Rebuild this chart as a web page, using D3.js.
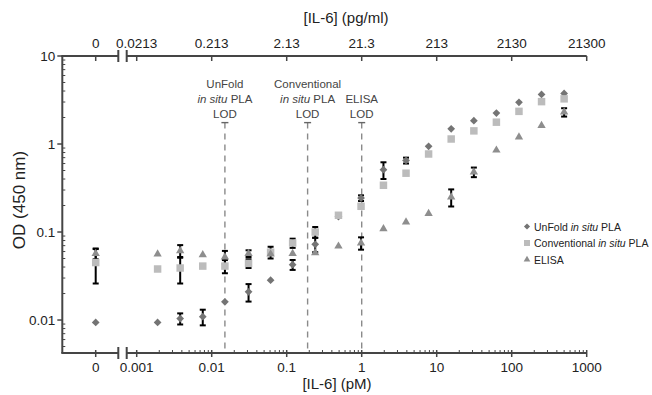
<!DOCTYPE html>
<html><head><meta charset="utf-8">
<script src="https://cdn.jsdelivr.net/npm/d3@7"></script>
<style>body{margin:0;background:#fff}svg{display:block;font-family:"Liberation Sans",Arial,sans-serif}</style>
</head><body><svg id="c" width="652" height="395"></svg>
<script>
// ---- data ----
const concentrations = [0, 0.0019, 0.0038, 0.0076, 0.015, 0.031, 0.061, 0.12, 0.24, 0.49, 0.98, 1.95, 3.9, 7.8, 15.6, 31.3, 62.5, 125, 250, 500];
const unfold       = [0.0094, 0.0094, 0.0104, 0.0109, 0.0161, 0.0209, 0.0284, 0.0426, 0.0725, 0.15, 0.243, 0.51, 0.65, 0.94, 1.49, 1.84, 2.25, 2.98, 3.66, 3.75];
const unfoldSD     = [0, 0, 0.0015, 0.0022, 0, 0.0047, 0, 0.0055, 0.0135, 0, 0.018, 0.11, 0.05, 0, 0, 0, 0, 0, 0, 0];
const conventional = [0.045, 0.038, 0.039, 0.041, 0.041, 0.044, 0.059, 0.075, 0.100, 0.155, 0.196, 0.34, 0.466, 0.77, 1.14, 1.41, 1.77, 2.35, 3.03, 3.26];
const conventionalSD = [0.019, 0, 0.013, 0, 0.007, 0.005, 0.009, 0.009, 0.014, 0, 0, 0, 0, 0, 0, 0, 0, 0, 0, 0];
const elisa        = [0.057, 0.056, 0.061, 0.055, 0.052, 0.057, 0.056, 0.057, 0.058, 0.069, 0.075, 0.109, 0.130, 0.162, 0.25, 0.48, 0.85, 1.20, 1.62, 2.30];
const elisaSD      = [0.008, 0, 0.010, 0, 0.009, 0.005, 0, 0, 0, 0, 0.012, 0, 0, 0, 0.055, 0.06, 0, 0, 0, 0.25];
const seriesNames  = ["UnFold", "Conventional", "ELISA"];
const xTicks = [0.001, 0.01, 0.1, 1, 10, 100, 1000];
const xTickLabels = ["0.001", "0.01", "0.1", "1", "10", "100", "1000"];
const topTickLabels = ["0.0213", "0.213", "2.13", "21.3", "213", "2130", "21300"];
const zeroLabel = "0";
const yTicks = [0.01, 0.1, 1, 10];
const yTickLabels = ["0.01", "0.1", "1", "10"];
const lodValues = [0.015, 0.19, 1.0];
const lodTop = 1.75;
const lodLabels = [["UnFold", "in situ PLA", "LOD"], ["Conventional", "in situ PLA", "LOD"], ["ELISA", "LOD"]];

// ---- layout ----
const svg = d3.select("#c");
const axisX0 = 62.3, yTop = 56, yBot = 353;
const xLog = d3.scaleLog().domain([0.001, 1000]).range([136.7, 586.7]);
const xZero = d3.scaleOrdinal().domain(["0"]).range([95.7]);
const x = c => c === 0 ? xZero("0") : xLog(c);
const y = d3.scaleLog().domain([0.00422, 10]).range([yBot, yTop]);
const breakL = 118.3, breakR = 126.7;
const axisColor = "#454545";
const textColor = "#222";

const series = [
  {name: seriesNames[0], vals: unfold, sd: unfoldSD, shape: "diamond", color: "#747474"},
  {name: seriesNames[1], vals: conventional, sd: conventionalSD, shape: "square", color: "#bcbcbc"},
  {name: seriesNames[2], vals: elisa, sd: elisaSD, shape: "triangle", color: "#8e8e8e"}
];

function symPath(shape, scale) {
  scale = scale || 1;
  if (shape === "diamond") return d3.symbol(d3.symbolSquare, 30 * scale * scale)();
  if (shape === "square") return d3.symbol(d3.symbolSquare, 56 * scale * scale)();
  return d3.symbol(d3.symbolTriangle, 30 * scale * scale)();
}

// ---- LOD dashed lines ----
const lodG = svg.append("g");
lodValues.forEach((v, i) => {
  const xv = xLog(v);
  lodG.append("line").attr("x1", xv).attr("x2", xv).attr("y1", y(lodTop)).attr("y2", yBot)
    .attr("stroke", "#8a8a8a").attr("stroke-width", 1.4).attr("stroke-dasharray", "6,5");
  lodG.append("line").attr("x1", xv - 3.5).attr("x2", xv + 3.5).attr("y1", y(lodTop)).attr("y2", y(lodTop))
    .attr("stroke", "#666").attr("stroke-width", 1.4);
  const lines = lodLabels[i];
  const n = lines.length;
  lines.forEach((t, j) => {
    const baseY = y(lodTop) - 5 - (n - 1 - j) * 15;
    const tx = lodG.append("text").attr("x", xv).attr("y", baseY).attr("text-anchor", "middle")
      .attr("font-size", 11.5).attr("fill", "#444");
    if (t === "in situ PLA") {
      tx.append("tspan").attr("font-style", "italic").text("in situ");
      tx.append("tspan").text(" PLA");
    } else tx.text(t);
  });
});

// ---- error bars ----
const ebG = svg.append("g");
series.forEach(s => {
  concentrations.forEach((c, i) => {
    const sd = s.sd[i];
    if (!sd) return;
    const xv = x(c), hi = y(s.vals[i] + sd), lo = y(Math.max(s.vals[i] - sd, 1e-4));
    ebG.append("line").attr("x1", xv).attr("x2", xv).attr("y1", hi).attr("y2", lo).attr("stroke", "#000").attr("stroke-width", 2);
    [hi, lo].forEach(yy => ebG.append("line").attr("x1", xv - 3).attr("x2", xv + 3).attr("y1", yy).attr("y2", yy).attr("stroke", "#000").attr("stroke-width", 2));
  });
});

// ---- markers ----
series.forEach(s => {
  svg.append("g").selectAll("path").data(concentrations.map((c, i) => ({c, v: s.vals[i]})))
    .join("path")
    .attr("d", symPath(s.shape))
    .attr("transform", d => `translate(${x(d.c)},${y(d.v)})` + (s.shape === "diamond" ? " rotate(45)" : ""))
    .attr("fill", s.color);
});

// ---- axes ----
const axG = svg.append("g").attr("stroke", axisColor).attr("fill", "none");
axG.append("line").attr("x1", axisX0).attr("x2", axisX0).attr("y1", yTop).attr("y2", yBot).attr("stroke-width", 2);
[yBot, yTop].forEach(yy => {
  axG.append("line").attr("x1", axisX0 - 1).attr("x2", breakL).attr("y1", yy).attr("y2", yy).attr("stroke-width", 2);
  axG.append("line").attr("x1", breakR).attr("x2", xLog(1000)).attr("y1", yy).attr("y2", yy).attr("stroke-width", 2);
  [breakL, breakR].forEach(bx => axG.append("line").attr("x1", bx).attr("x2", bx).attr("y1", yy - 6).attr("y2", yy + 6).attr("stroke-width", 2));
});
yTicks.forEach(t => axG.append("line").attr("x1", axisX0 - 5).attr("x2", axisX0).attr("y1", y(t)).attr("y2", y(t)).attr("stroke-width", 1.5));
const yMinor = [];
for (let e = -3; e <= 0; e++) for (let m = 2; m <= 9; m++) { const v = m * Math.pow(10, e); if (v >= 0.00422 && v < 10) yMinor.push(v); }
yMinor.forEach(t => axG.append("line").attr("x1", axisX0).attr("x2", axisX0 + 3).attr("y1", y(t)).attr("y2", y(t)).attr("stroke-width", 1));
svg.append("g").selectAll("text").data(yTicks).join("text")
  .attr("x", axisX0 - 7).attr("y", d => y(d) + 5).attr("text-anchor", "end")
  .attr("font-size", 13.5).attr("fill", textColor).text((d, i) => yTickLabels[i]);

const bottomMajor = [0].concat(xTicks);
bottomMajor.forEach(t => axG.append("line").attr("x1", x(t)).attr("x2", x(t)).attr("y1", yBot - 3).attr("y2", yBot + 4).attr("stroke-width", 1.5));
const xMinor = [];
for (let e = -3; e <= 2; e++) for (let m = 2; m <= 9; m++) xMinor.push(m * Math.pow(10, e));
xMinor.forEach(t => axG.append("line").attr("x1", xLog(t)).attr("x2", xLog(t)).attr("y1", yBot - 3).attr("y2", yBot).attr("stroke-width", 1));
bottomMajor.forEach(t => axG.append("line").attr("x1", x(t)).attr("x2", x(t)).attr("y1", yTop).attr("y2", yTop + 5).attr("stroke-width", 1.5));

svg.append("g").selectAll("text").data(bottomMajor).join("text")
  .attr("x", d => x(d)).attr("y", 372).attr("text-anchor", "middle")
  .attr("font-size", 13.5).attr("fill", textColor).text((d, i) => i === 0 ? zeroLabel : xTickLabels[i - 1]);
svg.append("g").selectAll("text").data(bottomMajor).join("text")
  .attr("x", d => x(d)).attr("y", 48).attr("text-anchor", "middle")
  .attr("font-size", 13.5).attr("fill", textColor).text((d, i) => i === 0 ? zeroLabel : topTickLabels[i - 1]);

svg.append("text").attr("x", 337).attr("y", 389).attr("text-anchor", "middle").attr("font-size", 15).attr("fill", textColor).text("[IL-6] (pM)");
svg.append("text").attr("x", 346).attr("y", 23).attr("text-anchor", "middle").attr("font-size", 15).attr("fill", textColor).text("[IL-6] (pg/ml)");
svg.append("text").attr("transform", "translate(25,200) rotate(-90)").attr("text-anchor", "middle").attr("font-size", 17).attr("fill", textColor).text("OD (450 nm)");

// legend
const legRows = [226.5, 243, 259.5];
const legLabels = [["UnFold ", "in situ", " PLA"], ["Conventional ", "in situ", " PLA"], ["ELISA"]];
series.forEach((s, i) => {
  svg.append("path").attr("d", symPath(s.shape, 0.8))
    .attr("transform", `translate(527,${legRows[i]})` + (s.shape === "diamond" ? " rotate(45)" : ""))
    .attr("fill", s.color);
  const t = svg.append("text").attr("x", 534).attr("y", legRows[i] + 4).attr("font-size", 10.5).attr("fill", textColor);
  legLabels[i].forEach((p, k) => t.append("tspan").attr("font-style", k === 1 ? "italic" : "normal").text(p));
});
</script></body></html>
